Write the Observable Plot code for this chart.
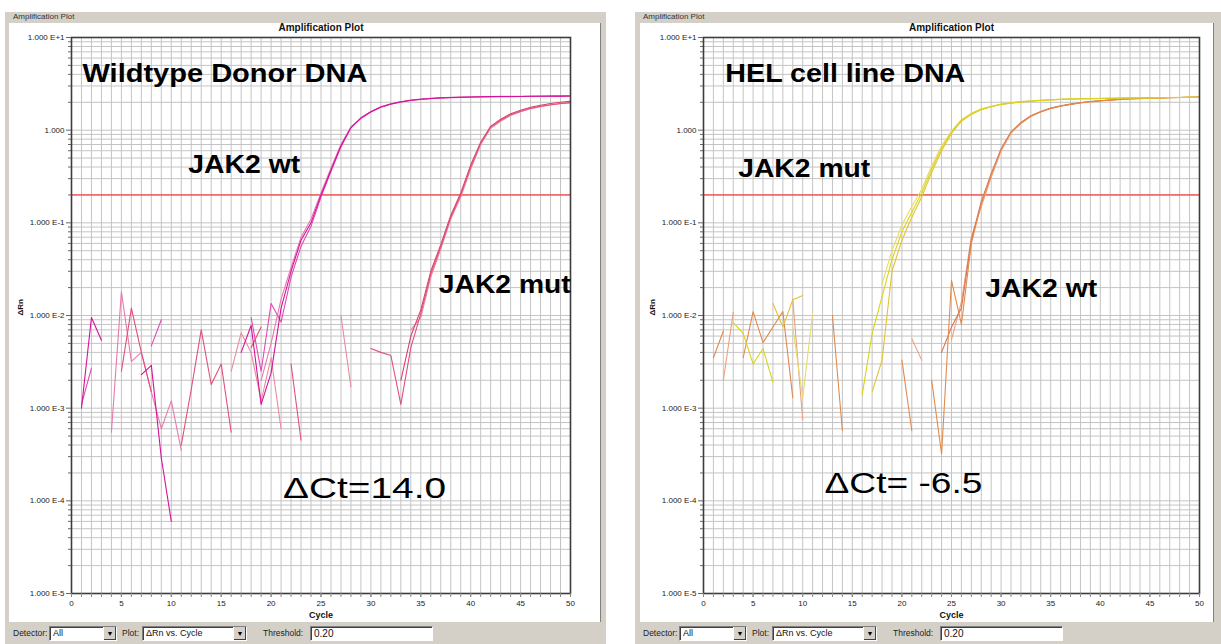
<!DOCTYPE html>
<html><head><meta charset="utf-8">
<script src="https://cdn.jsdelivr.net/npm/d3@7"></script>
<script src="https://cdn.jsdelivr.net/npm/@observablehq/plot@0.6"></script>
<style>
body{margin:0;width:1221px;height:644px;background:#fff;position:relative;overflow:hidden;font-family:"Liberation Sans",Arial,sans-serif;}
.frame{position:absolute;background:#d4d0c8;}
.inner{position:absolute;background:#fff;border-right:1px solid #808080;}
.grp{position:absolute;font-size:8px;color:#333;background:#d4d0c8;padding:0 2px;}
.lbl{position:absolute;font-size:8.5px;color:#222;line-height:15px;white-space:nowrap;}
.box{position:absolute;height:13px;background:#fff;border-top:1px solid #808080;border-left:1px solid #808080;border-bottom:1px solid #fff;border-right:1px solid #fff;box-shadow:inset 1px 1px 0 #404040;font-size:9px;line-height:13px;padding-left:3px;box-sizing:content-box;color:#111;white-space:nowrap;}
.btn{position:absolute;right:0;top:0;width:12px;height:13px;background:#d4d0c8;border-left:1px solid #fff;box-shadow:inset -1px -1px 0 #404040;font-size:7px;text-align:center;line-height:13px;color:#000;}
.plot{position:absolute;}
</style>
</head><body>
<div class="frame" style="left:5px;top:12px;width:601px;height:632px"></div>
<div class="frame" style="left:635px;top:12px;width:586px;height:632px"></div>
<div class="inner" style="left:9px;top:23px;width:591px;height:599px"></div>
<div class="inner" style="left:640px;top:23px;width:573px;height:599px"></div>
<div class="grp" style="left:11px;top:12px">Amplification Plot</div>
<div class="grp" style="left:641px;top:12px">Amplification Plot</div>
<div id="left" class="plot" style="left:9px;top:23px"></div>
<div id="right" class="plot" style="left:640px;top:23px"></div>
<div id="controls"></div>
<script>
const n = null;
const cycles = d3.range(1, 51);

// ---- Left panel: Wildtype Donor DNA ----
const donorWt1 = [
1.0e-3, 9.5e-3, 5.4e-3, n, n, n, 2.3e-3, 2.9e-3, 2.9e-4, 6.0e-5,
n, n, n, n, n, n, 4.0e-3, 7.8e-3, 1.1e-3, 2.4e-3,
0.012, 0.030, 0.065, 0.10, 0.20, 0.37, 0.68, 1.07, 1.35, 1.58,
1.78, 1.92, 2.02, 2.10, 2.16, 2.20, 2.23, 2.25, 2.27, 2.28,
2.29, 2.30, 2.31, 2.31, 2.31, 2.32, 2.32, 2.33, 2.33, 2.34];
const donorWt2 = [
1.1e-3, 2.7e-3, n, n, n, n, n, 4.7e-3, 9.0e-3, n,
n, n, n, n, n, n, n, 9.5e-3, 2.5e-3, 0.0135,
0.0085, 0.026, 0.056, 0.092, 0.19, 0.36, 0.66, 1.06, 1.34, 1.57,
1.77, 1.91, 2.01, 2.09, 2.15, 2.19, 2.22, 2.24, 2.26, 2.27,
2.28, 2.29, 2.30, 2.30, 2.31, 2.31, 2.32, 2.32, 2.33, 2.33];
const donorWt3 = [
n, n, n, 5.5e-4, 0.018, 3.2e-3, 4.0e-3, 1.5e-3, 6.0e-4, 1.2e-3,
3.5e-4, n, n, n, n, n, n, n, 2.0e-3, 5.0e-3,
0.015, 0.033, 0.070, 0.11, 0.21, 0.39, 0.70, 1.08, 1.36, 1.59,
1.79, 1.93, 2.03, 2.11, 2.17, 2.21, 2.24, 2.26, 2.28, 2.29,
2.30, 2.31, 2.32, 2.32, 2.32, 2.33, 2.33, 2.34, 2.34, 2.35];
const donorMut1 = [
n, n, n, n, 2.5e-3, 0.012, 4.0e-3, 1.5e-3, n, n,
4.0e-4, 1.6e-3, 7.0e-3, 1.8e-3, 3.0e-3, 5.5e-4, n, 4.5e-3, 7.5e-3, n,
n, 3.0e-3, 4.5e-4, n, n, n, n, 0.010, n, 4.4e-3,
4.0e-3, 3.7e-3, 1.1e-3, 4.5e-3, 0.0105, 0.028, 0.055, 0.115, 0.20, 0.40,
0.72, 1.08, 1.28, 1.47, 1.60, 1.72, 1.81, 1.88, 1.94, 1.98];
const donorMut2 = [
n, n, n, n, n, n, n, n, n, n,
n, n, n, n, n, 2.5e-3, 6.5e-3, 4.0e-3, 1.2e-3, 3.5e-3,
6.0e-4, n, n, n, n, n, 1.0e-2, 1.7e-3, n, n,
n, n, n, 7.0e-3, 0.0095, 0.026, 0.052, 0.11, 0.19, 0.38,
0.70, 1.05, 1.25, 1.44, 1.58, 1.70, 1.79, 1.87, 1.93, 1.97];
const donorMut3 = [
n, n, n, n, n, n, n, n, n, n,
n, n, n, n, n, n, n, n, n, n,
n, n, n, n, n, n, n, n, n, n,
n, n, 2.0e-3, 6.0e-3, 0.0115, 0.030, 0.058, 0.12, 0.21, 0.42,
0.74, 1.10, 1.31, 1.50, 1.64, 1.77, 1.86, 1.94, 2.00, 2.05];

// ---- Right panel: HEL cell line DNA ----
const helMut1 = [
n, n, 8.4e-3, 6.4e-3, 3.0e-3, 4.4e-3, 1.9e-3, n, n, n,
n, n, n, n, n, 1.4e-3, 6.4e-3, 0.016, 0.040, 0.080,
0.13, 0.21, 0.38, 0.64, 0.95, 1.28, 1.50, 1.68, 1.80, 1.90,
1.97, 2.02, 2.06, 2.10, 2.13, 2.15, 2.17, 2.18, 2.19, 2.20,
2.21, 2.22, 2.22, 2.23, 2.23, 2.24, 2.25, 2.25, 2.26, 2.27];
const helMut2 = [
n, n, n, n, n, n, 0.0135, 7.5e-3, 0.0148, 0.0164,
n, n, n, n, n, n, 1.5e-3, 3.3e-3, 0.030, 0.065,
0.115, 0.19, 0.35, 0.60, 0.92, 1.25, 1.48, 1.66, 1.79, 1.89,
1.96, 2.01, 2.05, 2.09, 2.12, 2.14, 2.16, 2.18, 2.19, 2.20,
2.21, 2.21, 2.22, 2.22, 2.23, 2.24, 2.24, 2.25, 2.26, 2.27];
const helMut3 = [
n, n, n, n, n, n, n, n, 7.5e-3, 1.3e-3,
0.0105, n, n, n, n, n, n, 0.022, 0.050, 0.095,
0.15, 0.23, 0.41, 0.68, 0.98, 1.30, 1.52, 1.70, 1.81, 1.91,
1.98, 2.03, 2.07, 2.10, 2.13, 2.16, 2.17, 2.18, 2.20, 2.21,
2.21, 2.22, 2.23, 2.23, 2.24, 2.24, 2.25, 2.26, 2.26, 2.28];
const helWt1 = [
3.5e-3, 6.8e-3, n, 3.5e-3, 0.011, 5.1e-3, 7.5e-3, 0.011, 1.3e-3, n,
n, n, 0.010, 5.7e-4, n, n, n, n, n, 3.3e-3,
5.7e-4, n, 2.0e-3, 3.2e-4, 0.024, 8.0e-3, 0.060, 0.16, 0.33, 0.62,
0.95, 1.20, 1.42, 1.58, 1.72, 1.82, 1.90, 1.98, 2.03, 2.08,
2.12, 2.15, 2.18, 2.20, 2.22, 2.23, 2.24, 2.25, 2.26, 2.27];
const helWt2 = [
n, 2.0e-3, 0.0108, n, n, n, n, n, 0.015, 7.5e-4,
n, n, n, n, n, n, n, n, n, n,
5.6e-3, 3.3e-3, n, n, 5.5e-3, 0.014, 0.070, 0.15, 0.31, 0.60,
0.93, 1.18, 1.40, 1.57, 1.71, 1.81, 1.90, 1.97, 2.02, 2.07,
2.11, 2.14, 2.17, 2.19, 2.21, 2.22, 2.24, 2.25, 2.26, 2.27];
const helWt3 = [
n, n, n, n, n, n, n, n, n, n,
n, n, n, n, n, n, n, n, n, n,
n, n, n, 4.0e-3, 7.5e-3, 0.012, 0.065, 0.17, 0.34, 0.63,
0.96, 1.21, 1.43, 1.59, 1.73, 1.83, 1.91, 1.98, 2.04, 2.08,
2.12, 2.16, 2.18, 2.20, 2.22, 2.23, 2.25, 2.25, 2.26, 2.28];

const threshold = 0.20;
const yTickValues = [1e-5, 1e-4, 1e-3, 1e-2, 1e-1, 1, 10];
const yTickLabels = ["1.000 E-5", "1.000 E-4", "1.000 E-3", "1.000 E-2", "1.000 E-1", "1.000", "1.000 E+1"];
const xTickValues = d3.range(0, 51, 5);
const leftTexts = ["Wildtype Donor DNA", "JAK2 wt", "JAK2 mut", "ΔCt=14.0"];
const leftTextX = [1.1, 11.7, 36.8, 21.2];
const leftTextY = [3.27, 0.341, 0.0173, 1.06e-4];
const rightTexts = ["HEL cell line DNA", "JAK2 mut", "JAK2 wt", "ΔCt= -6.5"];
const rightTextX = [2.2, 3.5, 28.4, 12.2];
const rightTextY = [3.27, 0.309, 0.0157, 1.2e-4];

const FONT = '"Liberation Sans", Arial, sans-serif';

function makePanel(cfg) {
  const rows = [];
  cfg.series.forEach(s => s.values.forEach((v, j) => rows.push({cycle: cycles[j], value: v, key: s.key, color: s.color})));
  const minor = [];
  for (let e = -5; e < 1; e++) for (let m = 2; m <= 9; m++) minor.push(m * Math.pow(10, e));
  const annMarks = cfg.texts.map((t, i) => Plot.text([{x: cfg.tx[i], y: cfg.ty[i], t}], {
    x: "x", y: "y", text: "t", textAnchor: "start", lineAnchor: "bottom",
    fontSize: cfg.fontSizes[i], fontWeight: cfg.weights[i], fill: "#000",
    fontFamily: FONT
  }));
  const svg = Plot.plot({
    width: cfg.width, height: 599,
    marginLeft: cfg.ml, marginRight: cfg.mr, marginTop: 14, marginBottom: 29,
    style: {fontFamily: FONT, fontSize: "8px", background: "transparent", color: "#222", overflow: "visible"},
    x: {domain: [0, 50], label: null},
    y: {type: "log", domain: [1e-5, 10], label: null},
    color: {type: "identity"},
    marks: [
      Plot.ruleX(d3.range(1, 50), {stroke: "#c4c4c4", strokeWidth: 1}),
      Plot.ruleY(minor, {stroke: "#c4c4c4", strokeWidth: 1}),
      Plot.ruleY(yTickValues.slice(1, -1), {stroke: "#c4c4c4", strokeWidth: 1}),
      Plot.ruleY([threshold], {stroke: "#ff1a1a", strokeWidth: 1}),
      Plot.line(rows, {x: "cycle", y: "value", z: "key", stroke: "color", strokeWidth: 1.1, clip: true}),
      Plot.frame({stroke: "#3c3c3c", strokeWidth: 1.6}),
      Plot.axisY(minor, {tickSize: 3, tickFormat: () => "", stroke: "#666", label: null}),
      Plot.axisY(yTickValues, {tickSize: 5, tickPadding: 2, stroke: "#666", label: null,
        tickFormat: d => yTickLabels[yTickValues.indexOf(d)], fontSize: 8, fill: "#222"}),
      Plot.axisX(d3.range(0, 51), {tickSize: 4, tickFormat: () => "", stroke: "#888", label: null}),
      Plot.axisX(xTickValues, {tickSize: 4, tickPadding: 3, stroke: "#888", label: null, fontSize: 8, fill: "#222"}),
      Plot.text(["Amplification Plot"], {text: d => d, frameAnchor: "top", dy: -7, lineAnchor: "bottom", fontWeight: "bold", fontSize: 10, fill: "#111"}),
      Plot.text(["Cycle"], {text: d => d, frameAnchor: "bottom", dy: 22, lineAnchor: "middle", fontWeight: "bold", fontSize: 9, fill: "#111"}),
      Plot.text(["ΔRn"], {text: d => d, frameAnchor: "left", dx: -51, rotate: -90, fontWeight: "bold", fontSize: 8, fill: "#111"}),
      ...annMarks
    ]
  });
  // stretch the big annotation labels to the widths seen in the reference
  svg.querySelectorAll("text").forEach(t => {
    const i = cfg.texts.indexOf(t.textContent);
    if (i >= 0) { t.setAttribute("textLength", cfg.widths[i]); t.setAttribute("lengthAdjust", "spacingAndGlyphs"); }
  });
  return svg;
}

document.getElementById("left").appendChild(makePanel({
  width: 591, ml: 62, mr: 30,
  series: [
    {key: "m2", values: donorMut2, color: "#ea8a9c"},
    {key: "w3", values: donorWt3, color: "#e77aae"},
    {key: "m3", values: donorMut3, color: "#d8406e"},
    {key: "m1", values: donorMut1, color: "#e0507a"},
    {key: "w2", values: donorWt2, color: "#e04ab0"},
    {key: "w1", values: donorWt1, color: "#d4129a"}
  ],
  texts: leftTexts, tx: leftTextX, ty: leftTextY,
  fontSizes: [25, 25, 25, 30], weights: ["bold", "bold", "bold", "normal"],
  widths: [285, 112, 132, 163]
}));
document.getElementById("right").appendChild(makePanel({
  width: 573, ml: 63, mr: 14,
  series: [
    {key: "w2", values: helWt2, color: "#eca07a"},
    {key: "m3", values: helMut3, color: "#e6dc6a"},
    {key: "w3", values: helWt3, color: "#d8704e"},
    {key: "w1", values: helWt1, color: "#e08a4e"},
    {key: "m2", values: helMut2, color: "#e4c232"},
    {key: "m1", values: helMut1, color: "#d8d418"}
  ],
  texts: rightTexts, tx: rightTextX, ty: rightTextY,
  fontSizes: [25, 25, 25, 30], weights: ["bold", "bold", "bold", "normal"],
  widths: [240, 132, 112, 158]
}));

// bottom control strips
const ctl = document.getElementById("controls");
[0, 630].forEach(off => {
  ctl.insertAdjacentHTML("beforeend", `
  <div class="lbl" style="left:${13+off}px;top:626px">Detector:</div>
  <div class="box" style="left:${49+off}px;top:626px;width:63px">All<div class="btn">&#9660;</div></div>
  <div class="lbl" style="left:${122+off}px;top:626px">Plot:</div>
  <div class="box" style="left:${142+off}px;top:626px;width:100px">ΔRn vs. Cycle<div class="btn">&#9660;</div></div>
  <div class="lbl" style="left:${263+off}px;top:626px">Threshold:</div>
  <div class="box" style="left:${310+off}px;top:626px;width:118px;font-size:10px">0.20</div>`);
});
</script>
</body></html>
